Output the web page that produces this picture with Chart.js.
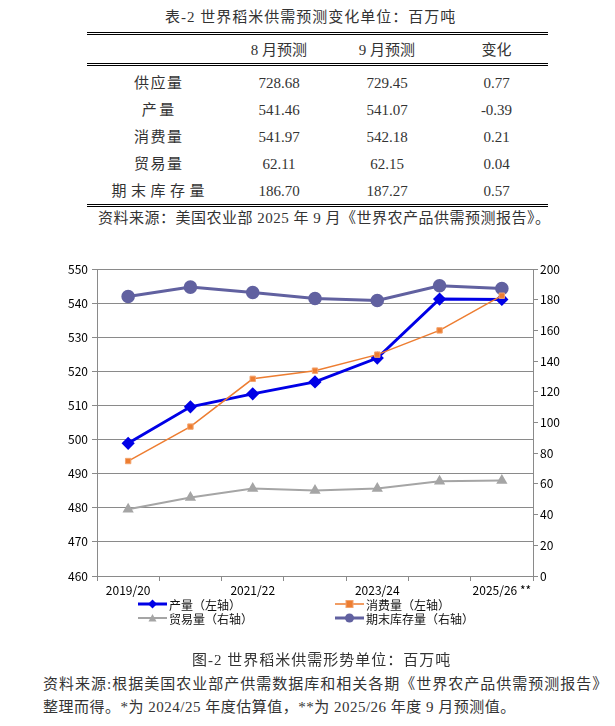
<!DOCTYPE html>
<html>
<head>
<meta charset="utf-8">
<script src="https://cdn.jsdelivr.net/npm/chart.js@4"></script>
<style>
  body { margin: 0; width: 615px; height: 726px; background: #fff; position: relative; overflow: hidden;
         font-family: "Liberation Serif", "Noto Sans CJK SC", serif; color: #333; }
  .txt { position: absolute; white-space: nowrap; font-size: 15px; line-height: 18px; letter-spacing: 1px; }
  #tbl { position: absolute; left: 87px; top: 32px; width: 461px; border-collapse: collapse; font-size: 15px; }
  #tbl td, #tbl th { padding: 0; text-align: center; font-weight: normal; height: 27px; line-height: 18px; }
  #tbl thead tr { border-top: 3px double #000; border-bottom: 3px double #000; }
  #tbl thead th { height: 26px; padding-top: 2px; }
  #tbl tbody tr:first-child td { padding-top: 3px; }
  #tbl tbody tr:last-child { border-bottom: 3px double #000; }
  #chartBox { position: absolute; left: 30px; top: 255px; width: 570px; height: 345px; }
  #legend { position: absolute; left: 0; top: 0; font-family: "Noto Sans CJK SC", sans-serif; font-size: 12px; color: #111; }
  .lg { position: absolute; display: flex; align-items: center; height: 14px; white-space: nowrap; }
  .lg svg { margin-right: 2px; }
</style>
</head>
<body>
<div class="txt" id="tblTitle" style="left:165px; top:8px;">表-2 世界稻米供需预测变化单位：百万吨</div>
<table id="tbl">
  <thead><tr id="tblHead"></tr></thead>
  <tbody id="tblBody"></tbody>
</table>
<div class="txt" style="left:98px; top:209px; letter-spacing:0.5px;">资料来源：美国农业部 2025 年 9 月《世界农产品供需预测报告》。</div>

<div id="chartBox"><canvas id="riceChart"></canvas></div>
<div id="legend"></div>

<div class="txt" style="left:192px; top:651px;">图-2 世界稻米供需形势单位：百万吨</div>
<div class="txt" style="left:43px; top:675px; letter-spacing:1px;">资料来源:根据美国农业部产供需数据库和相关各期《世界农产品供需预测报告》</div>
<div class="txt" style="left:43px; top:698px; letter-spacing:0.5px;">整理而得。*为 2024/25 年度估算值，**为 2025/26 年度 9 月预测值。</div>

<script>
// table data (million tonnes)
const tableHeader = ['', '8月预测', '9月预测', '变化'];
const tableRows = ['供应量', '产量', '消费量', '贸易量', '期末库存量'];
const augForecast = ['728.68', '541.46', '541.97', '62.11', '186.70'];
const sepForecast = ['729.45', '541.07', '542.18', '62.15', '187.27'];
const changes = ['0.77', '-0.39', '0.21', '0.04', '0.57'];

// chart data
const seasons = ['2019/20', '2020/21', '2021/22', '2022/23', '2023/24', '2024/25*', '2025/26 **'];
const production = [498.9, 509.6, 513.4, 516.9, 523.9, 541.2, 541.07];
const consumption = [493.7, 503.8, 517.8, 520.2, 524.9, 532.0, 542.18];
const trade = [43.5, 51.2, 57.0, 55.7, 57.0, 61.8, 62.15];
const endingStocks = [182.1, 188.2, 184.7, 180.8, 179.5, 189.1, 187.27];

function renderTable() {
  const colWidths = [142, 100, 116, 103];
  document.getElementById('tblHead').innerHTML = tableHeader
    .map((h, i) => `<th style="width:${colWidths[i]}px">${h.replace(/^(\d)/, '$1 ')}</th>`).join('');
  document.getElementById('tblBody').innerHTML = tableRows
    .map((name, i) => {
      // longer labels are spread wider, like the original
      const ls = name.length >= 5 ? 4.5 : name.length === 2 ? 2.5 : 1.5;
      return `<tr><td><span style="letter-spacing:${ls}px;padding-left:${ls}px">${name}</span></td>` +
        `<td>${augForecast[i]}</td><td>${sepForecast[i]}</td><td>${changes[i]}</td></tr>`;
    })
    .join('');
}

function renderLegend(chart) {
  // 2x2 legend under the plot
  const slots = [[138, 597], [335, 597], [138, 611], [335, 611]];
  const el = document.getElementById('legend');
  el.innerHTML = chart.data.datasets.map((ds, i) => {
    const [x, y] = slots[i];
    let mark = '';
    if (ds.pointStyle === 'rectRot') mark = '<polygon points="14.5,2.5 19,7 14.5,11.5 10,7" fill="' + ds.pointBackgroundColor + '"/>';
    if (ds.pointStyle === 'rect') mark = '<rect x="11" y="3.5" width="7" height="7" fill="' + ds.pointBackgroundColor + '" stroke="' + ds.pointBorderColor + '"/>';
    if (ds.pointStyle === 'triangle') mark = '<polygon points="14.5,3 18.5,10.5 10.5,10.5" fill="' + ds.pointBackgroundColor + '"/>';
    if (ds.pointStyle === 'circle') mark = '<circle cx="14.5" cy="7" r="4.5" fill="' + ds.pointBackgroundColor + '"/>';
    return `<div class="lg" style="left:${x}px;top:${y}px">
      <svg width="29" height="14"><line x1="0" y1="7" x2="29" y2="7" stroke="${ds.borderColor}" stroke-width="${ds.borderWidth}"/>${mark}</svg>
      <span>${ds.label}</span></div>`;
  }).join('');
}

function renderChart() {
  const tickFont = { family: '"Noto Sans CJK SC", sans-serif', size: 12 };
  const axisGrey = '#8a8a8a';
  const ctx = document.getElementById('riceChart').getContext('2d');
  return new Chart(ctx, {
    type: 'line',
    data: {
      labels: seasons,
      datasets: [{
        label: '产量（左轴）',
        data: production,
        yAxisID: 'yL',
        borderColor: '#0000e6',
        borderWidth: 3,
        pointStyle: 'rectRot',
        pointRadius: 4.5,
        pointBackgroundColor: '#0000e6',
        pointBorderColor: '#0000e6',
        order: 2
      }, {
        label: '消费量（左轴）',
        data: consumption,
        yAxisID: 'yL',
        borderColor: '#ed7d31',
        borderWidth: 1.5,
        pointStyle: 'rect',
        pointRadius: 3.8,
        pointBackgroundColor: '#ed7d31',
        pointBorderColor: '#f3a46e',
        pointBorderWidth: 1,
        order: 1
      }, {
        label: '贸易量（右轴）',
        data: trade,
        yAxisID: 'yR',
        borderColor: '#a5a5a5',
        borderWidth: 2,
        pointStyle: 'triangle',
        pointRadius: 4.5,
        pointBackgroundColor: '#a5a5a5',
        pointBorderColor: '#a5a5a5',
        order: 3
      }, {
        label: '期末库存量（右轴）',
        data: endingStocks,
        yAxisID: 'yR',
        borderColor: '#6161a0',
        borderWidth: 3,
        pointStyle: 'circle',
        pointRadius: 5.3,
        pointBackgroundColor: '#6161a0',
        pointBorderColor: '#6161a0',
        order: 4
      }]
    },
    options: {
      responsive: true,
      maintainAspectRatio: false,
      animation: false,
      layout: { padding: { top: 14, left: 0, right: 0, bottom: 0 } },
      plugins: { legend: { display: false }, tooltip: { enabled: false } },
      scales: {
        x: {
          offset: true,
          grid: { offset: true, drawOnChartArea: false, tickLength: 5, color: axisGrey },
          border: { color: axisGrey },
          ticks: {
            autoSkip: false, maxRotation: 0, padding: 2, color: '#000', font: tickFont,
            callback: function (v, i) { return i % 2 === 0 ? this.getLabelForValue(v) : ''; }
          },
          afterFit: s => { s.height = 24; }
        },
        yL: {
          position: 'left',
          min: 460, max: 550,
          grid: { color: axisGrey, tickLength: 5 },
          border: { color: axisGrey },
          ticks: { stepSize: 10, padding: 4, color: '#000', font: tickFont },
          afterFit: s => { s.width = 67; }
        },
        yR: {
          position: 'right',
          min: 0, max: 200,
          grid: { drawOnChartArea: false, color: axisGrey, tickLength: 5 },
          border: { color: axisGrey },
          ticks: { stepSize: 20, padding: 2, color: '#000', font: tickFont },
          afterFit: s => { s.width = 67; }
        }
      }
    }
  });
}

renderTable();
const chart = renderChart();
renderLegend(chart);
</script>
</body>
</html>
